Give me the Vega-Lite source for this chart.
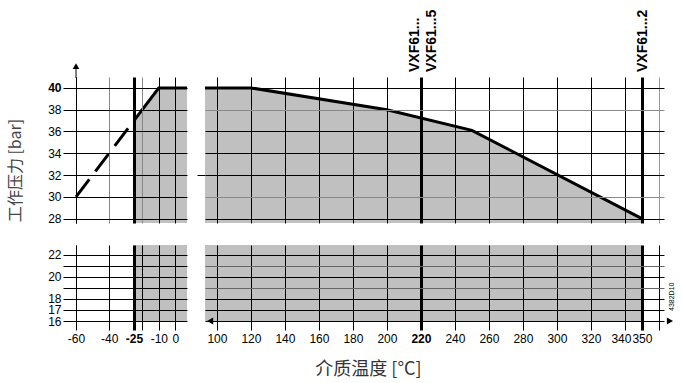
{
  "$schema": "https://vega.github.io/schema/vega-lite/v6.json",
  "background": "white",
  "padding": {"left": 7, "top": 9, "right": 5, "bottom": 5},
  "bounds": "flush",
  "columns": 2,
  "spacing": {"row": 22, "column": 18},
  "datasets": {
    "areaL": [{"t": -25, "p": 37}, {"t": -10, "p": 40}, {"t": 7, "p": 40}],
    "lineL": [
      {"t": -60, "p": 30, "seg": "dash"},
      {"t": -25, "p": 37, "seg": "dash"},
      {"t": -25, "p": 37, "seg": "solid"},
      {"t": -10, "p": 40, "seg": "solid"},
      {"t": 7, "p": 40, "seg": "solid"}
    ],
    "curveR": [
      {"t": 93, "p": 40}, {"t": 120, "p": 40}, {"t": 200, "p": 38},
      {"t": 250, "p": 36.1}, {"t": 350, "p": 28}
    ],
    "yArrow": [{"t": -60, "p": 40.9, "p2": 42}],
    "yArrowHead": [{"t": -60, "p": 42}],
    "bandL": [{"t": -25, "t2": 7, "p": 16, "p2": 22.9}],
    "bandR": [{"t": 93, "t2": 350, "p": 16, "p2": 22.9}],
    "arrowLeft": [{"t": 96, "p": 16}],
    "arrowRight": [{"t": 366.5, "p": 16}],
    "lab220a": [{"t": 220, "p": 41, "label": "VXF61..."}],
    "lab220b": [{"t": 220, "p": 41, "label": "VXF61...5"}],
    "lab350": [{"t": 350, "p": 41, "label": "VXF61...2"}],
    "code": [{"t": 367.8, "p": 18.2, "label": "4382D10"}]
  },
  "concat": [
    {
      "width": 111,
      "height": 146,
      "encoding": {
        "x": {
          "field": "t", "type": "quantitative",
          "scale": {"domain": [-60, 7], "nice": false, "zero": false},
          "axis": {
            "orient": "bottom", "values": [-60, -40, -25, -20, -10, 0],
            "labels": false, "ticks": false, "domain": false, "title": null,
            "grid": true,
            "gridWidth": {"condition": {"test": "datum.value == -25", "value": 3}, "value": 1},
            "gridColor": {"condition": {"test": "datum.value == -40 || datum.value == -20", "value": "#888888"}, "value": "#000000"},
            "zindex": 1
          }
        },
        "y": {
          "field": "p", "type": "quantitative",
          "scale": {"domain": [27.6, 41], "nice": false, "zero": false},
          "axis": {
            "values": [28, 30, 32, 34, 36, 38, 40],
            "labelExpr": "'' + datum.value",
            "labelOverlap": false,
            "tickSize": 13, "labelPadding": 2,
            "domain": true, "grid": true,
            "labelFontWeight": {"condition": {"test": "datum.value == 40", "value": "bold"}, "value": "normal"},
            "title": "工作压力 [bar]",
            "titleFont": "Noto Sans CJK SC", "titleFontSize": 16, "titleFontWeight": "normal",
            "titleColor": "#444444",
            "titleX": -61, "titleY": 93, "titleAngle": 270,
            "titleAlign": "center", "titleBaseline": "middle",
            "zindex": 1
          }
        }
      },
      "layer": [
        {
          "data": {"name": "areaL"},
          "mark": {"type": "area", "color": "#c0c0c0"},
          "encoding": {"y2": {"datum": 27.6}}
        },
        {
          "data": {"name": "lineL"},
          "mark": {"type": "line", "color": "#000000", "strokeWidth": 3},
          "encoding": {
            "detail": {"field": "seg"},
            "strokeDash": {"field": "seg", "type": "nominal", "scale": {"domain": ["dash", "solid"], "range": [[22, 10], [1, 0]]}, "legend": null}
          }
        },
        {
          "data": {"name": "yArrow"},
          "mark": {"type": "rule", "color": "#000000", "strokeWidth": 1},
          "encoding": {"y2": {"field": "p2"}}
        },
        {
          "data": {"name": "yArrowHead"},
          "mark": {"type": "point", "shape": "triangle-up", "filled": true, "color": "#000000", "size": 45, "opacity": 1},
          "encoding": {}
        }
      ]
    },
    {
      "width": 459,
      "height": 146,
      "encoding": {
        "x": {
          "field": "t", "type": "quantitative",
          "scale": {"domain": [93, 363], "nice": false, "zero": false},
          "axis": {
            "orient": "bottom",
            "values": [100, 120, 140, 160, 180, 200, 220, 240, 260, 280, 300, 320, 340, 350, 360],
            "labels": false, "ticks": false, "domain": false, "title": null,
            "grid": true,
            "gridWidth": {"condition": {"test": "datum.value == 220 || datum.value == 350", "value": 3}, "value": 1},
            "gridColor": {"condition": {"test": "datum.value == 360", "value": "#999999"}, "value": "#000000"},
            "zindex": 1
          }
        },
        "y": {
          "field": "p", "type": "quantitative",
          "scale": {"domain": [27.6, 41], "nice": false, "zero": false},
          "axis": {
            "values": [28, 30, 32, 34, 36, 38, 40],
            "labels": false, "domain": false, "title": null, "grid": true,
            "tickSize": {"condition": {"test": "datum.value == 32", "value": 8}, "value": 0},
            "gridColor": {"condition": {"test": "datum.value == 38 || datum.value == 30", "value": "#888888"}, "value": "#000000"},
            "zindex": 1
          }
        }
      },
      "layer": [
        {
          "data": {"name": "curveR"},
          "mark": {"type": "area", "color": "#c0c0c0"},
          "encoding": {"y2": {"datum": 27.6}}
        },
        {
          "data": {"name": "curveR"},
          "mark": {"type": "line", "color": "#000000", "strokeWidth": 3},
          "encoding": {}
        },
        {
          "data": {"name": "lab220a"},
          "mark": {"type": "text", "angle": 270, "align": "left", "baseline": "middle", "dx": 5, "dy": -6, "font": "Liberation Sans", "fontSize": 14, "fontWeight": "bold", "color": "#000000"},
          "encoding": {"text": {"field": "label"}}
        },
        {
          "data": {"name": "lab220b"},
          "mark": {"type": "text", "angle": 270, "align": "left", "baseline": "middle", "dx": 5, "dy": 11.5, "font": "Liberation Sans", "fontSize": 14, "fontWeight": "bold", "color": "#000000"},
          "encoding": {"text": {"field": "label"}}
        },
        {
          "data": {"name": "lab350"},
          "mark": {"type": "text", "angle": 270, "align": "left", "baseline": "middle", "dx": 5, "dy": 1.5, "font": "Liberation Sans", "fontSize": 14, "fontWeight": "bold", "color": "#000000"},
          "encoding": {"text": {"field": "label"}}
        }
      ]
    },
    {
      "width": 111,
      "height": 76,
      "encoding": {
        "x": {
          "field": "t", "type": "quantitative",
          "scale": {"domain": [-60, 7], "nice": false, "zero": false},
          "axis": {
            "orient": "bottom", "values": [-60, -40, -25, -20, -10, 0],
            "labelExpr": "datum.value == -20 ? '' : '' + datum.value",
            "labelFontWeight": {"condition": {"test": "datum.value == -25", "value": "bold"}, "value": "normal"},
            "labelOverlap": false, "labelFlush": false, "labelPadding": 3,
            "tickSize": 9,
            "tickWidth": {"condition": {"test": "datum.value == -25", "value": 3}, "value": 1},
            "domain": false, "title": null, "grid": true,
            "gridWidth": {"condition": {"test": "datum.value == -25", "value": 3}, "value": 1},
            "zindex": 1
          }
        },
        "y": {
          "field": "p", "type": "quantitative",
          "scale": {"domain": [16, 22.9], "nice": false, "zero": false},
          "axis": {
            "values": [16, 17, 18, 19, 20, 21, 22],
            "labelExpr": "datum.value == 19 || datum.value == 21 ? '' : '' + datum.value",
            "labelOverlap": false, "labelFlush": false,
            "tickSize": 13, "labelPadding": 2,
            "domain": true, "grid": true, "title": null,
            "zindex": 1
          }
        }
      },
      "layer": [
        {
          "data": {"name": "bandL"},
          "mark": {"type": "rect", "color": "#c0c0c0"},
          "encoding": {"x2": {"field": "t2"}, "y2": {"field": "p2"}}
        }
      ]
    },
    {
      "width": 459,
      "height": 76,
      "encoding": {
        "x": {
          "field": "t", "type": "quantitative",
          "scale": {"domain": [93, 363], "nice": false, "zero": false},
          "axis": {
            "orient": "bottom",
            "values": [100, 120, 140, 160, 180, 200, 220, 240, 260, 280, 300, 320, 340, 350, 360],
            "labelExpr": "datum.value == 360 ? '' : '' + datum.value",
            "labelFontWeight": {"condition": {"test": "datum.value == 220", "value": "bold"}, "value": "normal"},
            "labelOffset": {"condition": {"test": "datum.value == 340", "value": -4}, "value": 0},
            "labelOverlap": false, "labelFlush": false, "labelPadding": 3,
            "tickSize": 9,
            "tickWidth": {"condition": {"test": "datum.value == 220 || datum.value == 350", "value": 3}, "value": 1},
            "domain": false, "grid": true,
            "gridWidth": {"condition": {"test": "datum.value == 220 || datum.value == 350", "value": 3}, "value": 1},
            "title": "介质温度 [°C]",
            "titleFont": "Noto Sans CJK SC", "titleFontSize": 18, "titleFontWeight": "normal",
            "titleColor": "#333333",
            "titleX": 163, "titleY": 48, "titleAlign": "center", "titleBaseline": "middle",
            "zindex": 1
          }
        },
        "y": {
          "field": "p", "type": "quantitative",
          "scale": {"domain": [16, 22.9], "nice": false, "zero": false},
          "axis": {
            "values": [16, 17, 18, 19, 20, 21, 22],
            "labels": false, "ticks": false, "domain": false, "title": null, "grid": true,
            "gridColor": {"condition": {"test": "datum.value == 19 || datum.value == 21", "value": "#666666"}, "value": "#000000"},
            "zindex": 1
          }
        }
      },
      "layer": [
        {
          "data": {"name": "bandR"},
          "mark": {"type": "rect", "color": "#c0c0c0"},
          "encoding": {"x2": {"field": "t2"}, "y2": {"field": "p2"}}
        },
        {
          "data": {"name": "arrowLeft"},
          "mark": {"type": "point", "shape": "triangle-left", "filled": true, "color": "#000000", "size": 50, "opacity": 1},
          "encoding": {}
        },
        {
          "data": {"name": "arrowRight"},
          "mark": {"type": "point", "shape": "triangle-right", "filled": true, "color": "#000000", "size": 50, "opacity": 1},
          "encoding": {}
        },
        {
          "data": {"name": "code"},
          "mark": {"type": "text", "angle": 270, "align": "center", "baseline": "middle", "font": "Liberation Sans", "fontSize": 7, "color": "#000000"},
          "encoding": {"text": {"field": "label"}}
        }
      ]
    }
  ],
  "config": {
    "view": {"stroke": null},
    "axis": {
      "labelFont": "Liberation Sans",
      "labelFontSize": 12,
      "labelColor": "#000000",
      "tickColor": "#000000",
      "domainColor": "#000000",
      "gridColor": "#000000",
      "gridOpacity": 1,
      "titleFont": "Liberation Sans"
    }
  }
}
